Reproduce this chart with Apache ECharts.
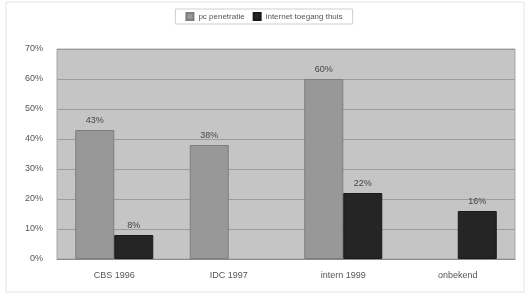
<!DOCTYPE html>
<html>
<head>
<meta charset="utf-8">
<script src="https://cdn.jsdelivr.net/npm/echarts@6/dist/echarts.min.js"></script>
<style>
  html, body { margin: 0; padding: 0; background: #fff; }
  #chart { width: 528px; height: 296px; }
</style>
</head>
<body>
<div id="chart"></div>
<script>
const categories = ['CBS 1996', 'IDC 1997', 'intern 1999', 'onbekend']
const pcPenetratie = [43, 38, 60, null]
const internetThuis = [8, null, 22, 16]
const seriesNames = ['pc penetratie', 'internet toegang thuis']

const chart = echarts.init(document.getElementById('chart'))

const labelStyle = {
  show: true,
  position: 'top',
  distance: 5,
  formatter: p => p.value + '%',
  color: '#444',
  fontSize: 9,
  fontFamily: 'Liberation Sans'
}

chart.setOption({
  animation: false,
  textStyle: { fontFamily: 'Liberation Sans' },
  graphic: [{
    type: 'rect',
    shape: { x: 6, y: 2, width: 518, height: 290 },
    style: { fill: 'none', stroke: '#e4e4e4', lineWidth: 1 },
    silent: true
  }],
  legend: {
    top: 9,
    left: 'center',
    icon: 'rect',
    itemWidth: 7,
    itemHeight: 7,
    itemGap: 8,
    padding: [3, 10],
    borderColor: '#cfcfcf',
    borderWidth: 1,
    backgroundColor: '#fff',
    textStyle: { fontSize: 8, color: '#555' },
    data: seriesNames
  },
  grid: {
    left: 57,
    right: 13,
    top: 49,
    bottom: 37,
    show: true,
    backgroundColor: '#c5c5c5',
    borderColor: '#a8a8a8',
    borderWidth: 1
  },
  xAxis: {
    type: 'category',
    data: categories,
    axisLine: { lineStyle: { color: '#8a8a8a' } },
    axisTick: { show: false },
    axisLabel: { color: '#555', fontSize: 9, margin: 12 }
  },
  yAxis: {
    type: 'value',
    min: 0,
    max: 70,
    interval: 10,
    axisLine: { show: false },
    axisTick: { show: false },
    axisLabel: { color: '#555', fontSize: 9, margin: 14, formatter: v => v + '%' },
    splitLine: { lineStyle: { color: '#9c9c9c', width: 1 } }
  },
  series: [
    {
      name: seriesNames[0],
      type: 'bar',
      data: pcPenetratie,
      barWidth: 39,
      barGap: '0%',
      itemStyle: { color: '#989898', borderColor: '#7e7e7e', borderWidth: 1 },
      label: labelStyle
    },
    {
      name: seriesNames[1],
      type: 'bar',
      data: internetThuis,
      barWidth: 39,
      barGap: '0%',
      itemStyle: { color: '#252525', borderColor: '#1a1a1a', borderWidth: 1 },
      label: labelStyle
    }
  ]
})
</script>
</body>
</html>
